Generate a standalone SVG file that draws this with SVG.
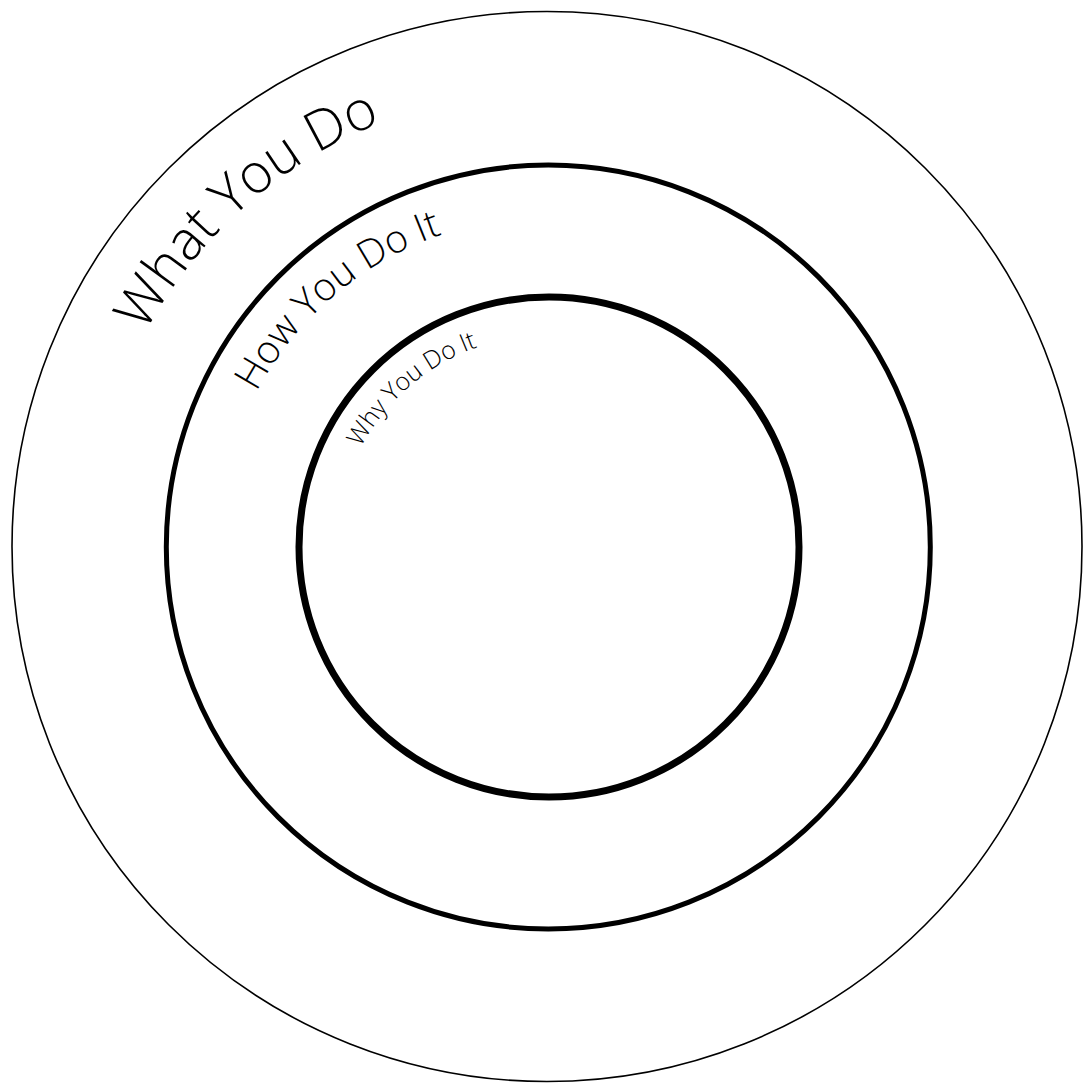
<svg xmlns="http://www.w3.org/2000/svg" xmlns:xlink="http://www.w3.org/1999/xlink" width="1083" height="1085" viewBox="0 0 1083 1085">
<style>
.ring{fill:none;stroke:#000}
.lbl{font-family:"Open Sans","Liberation Sans",sans-serif;font-weight:300;fill:#000}
</style>
<defs>
<path id="pWhat" d="M145.4 332.9 A456 456 0 0 1 776 152.1"/>
<path id="pHow" d="M256.6 392.1 A330 330 0 0 1 713 261.2"/>
<path id="pWhy" d="M360.8 447.5 A212 212 0 0 1 654 363.4"/>
</defs>
<rect width="1083" height="1085" fill="#fff"/>
<g id="outer">
<circle class="ring" cx="547" cy="546.5" r="535" stroke-width="1.6"/>
<text class="lbl" font-size="55"><textPath xlink:href="#pWhat">What You Do</textPath></text>
</g>
<g id="middle">
<circle class="ring" cx="548.3" cy="547" r="382" stroke-width="5"/>
<text class="lbl" font-size="39"><textPath xlink:href="#pHow">How You Do It</textPath></text>
</g>
<g id="inner">
<circle class="ring" cx="549" cy="547" r="250" stroke-width="7"/>
<text class="lbl" font-size="25" fill="#222"><textPath xlink:href="#pWhy">Why You Do It</textPath></text>
</g>
<g id="connectors"/>
</svg>
